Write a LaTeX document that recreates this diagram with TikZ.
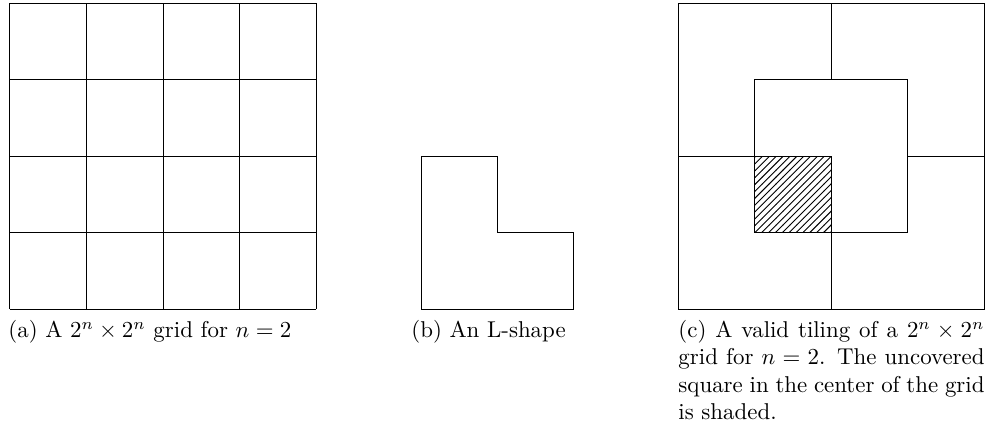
\documentclass[tikz,border=0pt]{standalone}
\usepackage{tikz}
\usetikzlibrary{patterns,positioning}
\tikzset{
  tile/.style={draw},
  hole/.style={draw,pattern=north east lines},
  caption/.style={anchor=north west,inner sep=0pt,align=left},
}

\begin{document}
\begin{tikzpicture}[x=1.175cm,y=1.175cm]
  \useasboundingbox (-0.13,-1.595) rectangle (12.82,4.04);
  % (a) the plain grid
  \foreach \i in {0,...,4} {
    \draw (\i,0) -- (\i,4);
    \draw (0,\i) -- (4,\i);
  }
  % (b) one L-shape
  \draw (5.373,0) -- (7.36,0) -- (7.36,1) -- (6.366,1) -- (6.366,2) -- (5.373,2) -- cycle;
  % (c) the tiling, hole in the middle
  \begin{scope}[shift={(8.73,0)}]
    \draw[hole] (1,1) rectangle (2,2);
    \draw[tile] (0,0) rectangle (4,4);
    \draw[tile] (1,1) rectangle (3,3);
    \draw (2,4) -- (2,3);
    \draw (0,2) -- (1,2);
    \draw (2,0) -- (2,1);
    \draw (3,2) -- (4,2);
  \end{scope}
  \node[caption] (capa) at (-0.026,-0.14) {(a) A $2^n \times 2^n$ grid for $n = 2$};
  \node[caption] (capb) at (5.24,-0.14) {(b) An L-shape};
  \node[caption,text width=4.7cm,align=justify] (capc) at (8.73,-0.14)
    {(c) A valid tiling of a $2^n \times 2^n$ grid for $n = 2$. The uncovered square in the center of the grid is shaded.};
\end{tikzpicture}
\end{document}
